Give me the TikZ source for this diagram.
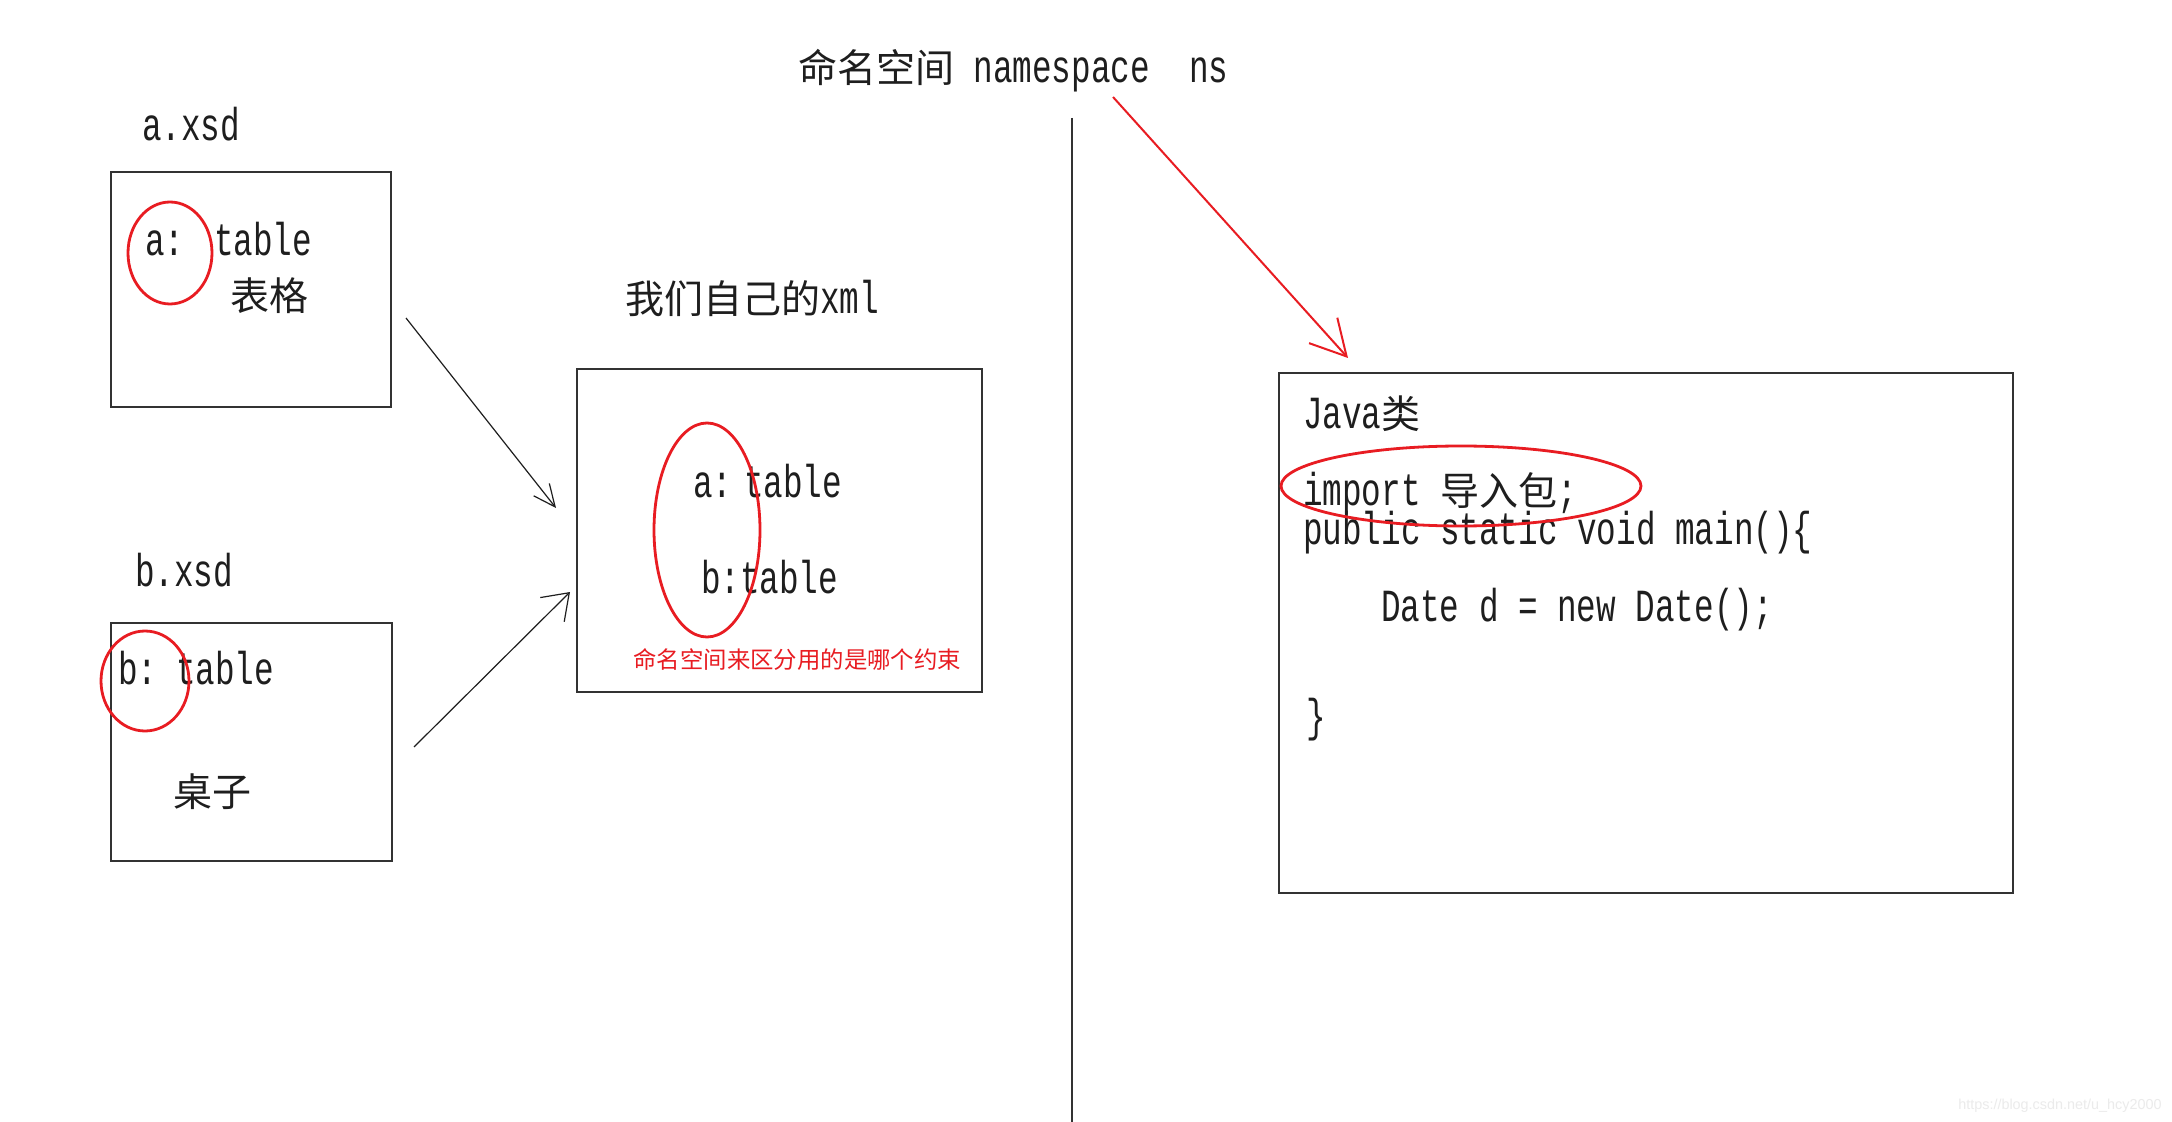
\documentclass[tikz,border=0pt]{standalone}
\usepackage{fontspec}
\usepackage{tikz}
\usetikzlibrary{shapes.geometric}
\usetikzlibrary{arrows.meta}
\newfontfamily\cjk{Noto Sans CJK SC}
\newfontfamily\latfont[FakeStretch=0.71]{Liberation Mono}
\newfontfamily\wmfont{Liberation Sans}
\definecolor{inkred}{RGB}{232,28,34}
\definecolor{inkblack}{RGB}{30,30,30}
\definecolor{linegray}{RGB}{50,50,50}
\newcommand\zh[1]{{\cjk\fontsize{19.5}{26}\selectfont #1}}

\begin{document}
\begin{tikzpicture}[x=0.5pt,y=-0.5pt]
  \tikzset{BoxStyle/.style = {
    shape         = rectangle,
    draw          = linegray,
    line width    = 1pt,
    inner sep     = 0pt,
    outer sep     = 0pt
    }
  }
  \tikzset{MarkStyle/.style = {
    shape         = ellipse,
    draw          = inkred,
    line width    = 1.4pt,
    inner sep     = 0pt,
    outer sep     = 0pt
    }
  }
  \tikzset{CodeStyle/.style = {
    anchor        = base west,
    text          = inkblack,
    inner sep     = 0pt,
    outer sep     = 0pt,
    font          = \latfont\fontsize{23}{27}\selectfont
    }
  }
  \tikzset{HanStyle/.style = {
    text          = inkblack,
    inner sep     = 0pt,
    font          = \cjk\fontsize{19.5}{26}\selectfont
    }
  }
  \tikzset{NoteStyle/.style = {
    anchor        = base west,
    text          = inkred,
    inner sep     = 0pt,
    font          = \cjk\fontsize{11.7}{14}\selectfont
    }
  }
  \tikzset{ArrowStyle/.style = {
    draw          = inkblack,
    line width    = 0.6pt
    }
  }
  \tikzset{RedArrowStyle/.style = {
    draw          = inkred,
    line width    = 1pt,
    -{Straight Barb[length=17.5pt,width=19pt]}
    }
  }

  \fill[white] (0,0) rectangle (2172,1122);
  \useasboundingbox (0,0) rectangle (2172,1122);

	\node[BoxStyle, minimum width=140pt, minimum height=117.5pt](boxA) at (251,289.5) {};
	\node[BoxStyle, minimum width=140.5pt, minimum height=119pt](boxB) at (251.5,742) {};
	\node[BoxStyle, minimum width=202.5pt, minimum height=161.5pt](boxC) at (779.5,530.5) {};
	\node[BoxStyle, minimum width=367pt, minimum height=260pt](boxD) at (1646,633) {};

	\node[CodeStyle](hdr) at (798,83) {\zh{命名空间} namespace\ \ ns};
	\node[CodeStyle](axsd) at (142,141) {a.xsd};
	\node[CodeStyle](aKey) at (145,256) {a:};
	\node[CodeStyle](aTbl) at (214,256) {table};
	\node[HanStyle](aHan) at (269,296) {表格};
	\node[CodeStyle](bxsd) at (135,586) {b.xsd};
	\node[CodeStyle](bKey) at (118,684) {b:};
	\node[CodeStyle](bTbl) at (176,684) {table};
	\node[HanStyle](bHan) at (212,792) {桌子};

	\node[CodeStyle](xmlTitle) at (625,314) {\zh{我们自己的}xml};
	\node[CodeStyle](xAKey) at (693,498) {a:};
	\node[CodeStyle](xATbl) at (744,498) {table};
	\node[CodeStyle](xB) at (701,593) {b:table};
	\node[NoteStyle](xNote) at (633,668) {命名空间来区分用的是哪个约束};

	\node[CodeStyle](java) at (1303,429) {Java\zh{类}};
	\node[CodeStyle](imp) at (1303,506) {import \zh{导入包};};
	\node[CodeStyle](pub) at (1303,545) {public static void main()\{};
	\node[CodeStyle](date) at (1381,621) {Date d = new Date();};
	\node[CodeStyle](rbrace) at (1306,731) {\}};

	\node[MarkStyle, minimum width=42pt, minimum height=51pt](markA) at (170,253) {};
	\node[MarkStyle, minimum width=44pt, minimum height=50pt](markB) at (145,681) {};
	\node[MarkStyle, minimum width=53pt, minimum height=107pt](markC) at (707,530) {};
	\node[MarkStyle, minimum width=180pt, minimum height=40pt](markD) at (1461,486) {};

	\coordinate (a1s) at (406,318);
	\coordinate (a1e) at (556,508);
	\coordinate (a2s) at (414,747);
	\coordinate (a2e) at (570,592);
	\coordinate (nsS) at (1113,97);
	\coordinate (nsE) at (1348,358);
	\coordinate (sepTop) at (1072,118);
	\coordinate (sepBot) at (1072,1122);

	\draw[ArrowStyle, -{Straight Barb[length=11pt,width=10pt]}](a1s) -- (a1e);
	\draw[ArrowStyle, -{Straight Barb[length=12pt,width=17pt]}](a2s) -- (a2e);
	\draw[RedArrowStyle](nsS) -- (nsE);
	\draw[draw=linegray, line width=1.2pt](sepTop) -- (sepBot);

	\node[anchor=base east, inner sep=0pt, text=black!8, font=\wmfont\fontsize{7.2}{9}\selectfont](wm) at (2162,1109) {https://blog.csdn.net/u\_hcy2000};
\end{tikzpicture}
\end{document}
